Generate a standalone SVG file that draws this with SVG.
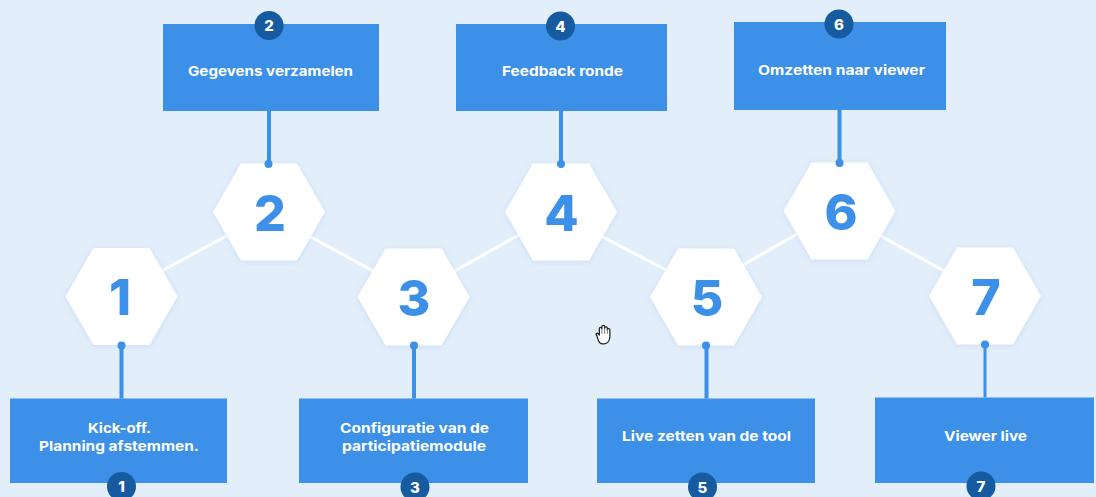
<svg xmlns="http://www.w3.org/2000/svg" width="1096" height="497" viewBox="0 0 1096 497">
<style>
.hex{fill:#fff;filter:url(#sh)}
.box{fill:#3d90e8}
.num{font:800 50px Inter,"Liberation Sans",sans-serif;fill:#3d90e8;text-anchor:middle}
.lab{font:700 13.500px Inter,"Liberation Sans",sans-serif;fill:#fff;text-anchor:middle}
.bad{fill:#165a9f}
.bt{font:800 15px Inter,"Liberation Sans",sans-serif;fill:#fff;text-anchor:middle}
.w{stroke:#fff;stroke-width:3;fill:none}
.b{stroke:#3d90e8;stroke-width:4;fill:none}
.d{fill:#3d90e8}
</style>
<defs>
<filter id="sh" x="-20%" y="-20%" width="140%" height="140%"><feDropShadow dx="0" dy="1" stdDeviation="3" flood-color="#9dbfe6" flood-opacity=".35"/></filter>
<polygon id="hx" points="-56,0 -28,-48.500 28,-48.500 56,0 28,48.500 -28,48.500"/>
</defs>
<rect width="1096" height="497" fill="#e2eefa"/>
<g id="connectors">
<path class="w" d="M160 272L230 234M309 236L375 272M453 272L522 233M601 236L668 271M741 266L799 233M879 235L946 272"/>
</g>
<g id="node1"><use href="#hx" x="121.500" y="296.500" class="hex"/><text class="num" x="120" y="315">1</text><rect class="box" x="10" y="398.500" width="217" height="84.500"/><path class="b" d="M121.500 346V398.500"/><circle class="d" cx="121.500" cy="345.500" r="4"/><text class="lab" x="119.500" y="432.500" textLength="63" lengthAdjust="spacingAndGlyphs">Kick-off.</text><text class="lab" x="119" y="450.500" textLength="160" lengthAdjust="spacingAndGlyphs">Planning afstemmen.</text><circle class="bad" cx="121.500" cy="486.500" r="14.500"/><text class="bt" x="121.500" y="492">1</text></g>
<g id="node2"><use href="#hx" x="269" y="212" class="hex"/><text class="num" x="270" y="231">2</text><rect class="box" x="163" y="24" width="216" height="87"/><path class="b" d="M269 111V164"/><circle class="d" cx="268.500" cy="164" r="4"/><text class="lab" x="270.500" y="76" textLength="165" lengthAdjust="spacingAndGlyphs">Gegevens verzamelen</text><circle class="bad" cx="269" cy="25.500" r="14.500"/><text class="bt" x="269" y="31">2</text></g>
<g id="node3"><use href="#hx" x="413.500" y="297" class="hex"/><text class="num" x="414" y="315.500">3</text><rect class="box" x="299" y="398.500" width="229" height="84.500"/><path class="b" d="M414 346V398.500"/><circle class="d" cx="414" cy="345.500" r="4"/><text class="lab" x="414.500" y="432.500" textLength="149" lengthAdjust="spacingAndGlyphs">Configuratie van de</text><text class="lab" x="414" y="450.500" textLength="144" lengthAdjust="spacingAndGlyphs">participatiemodule</text><circle class="bad" cx="415" cy="487" r="14.500"/><text class="bt" x="415" y="492.500">3</text></g>
<g id="node4"><use href="#hx" x="561" y="212" class="hex"/><text class="num" x="561.500" y="231">4</text><rect class="box" x="456" y="24" width="211" height="87"/><path class="b" d="M561 111V164"/><circle class="d" cx="561" cy="164" r="4"/><text class="lab" x="562.500" y="76" textLength="121" lengthAdjust="spacingAndGlyphs">Feedback ronde</text><circle class="bad" cx="560.500" cy="26" r="14.500"/><text class="bt" x="560.500" y="31.500">4</text></g>
<g id="node5"><use href="#hx" x="706" y="297" class="hex"/><text class="num" x="707" y="315.500">5</text><rect class="box" x="597" y="398.500" width="218" height="84.500"/><path class="b" d="M706.500 346V398.500"/><circle class="d" cx="706" cy="345.500" r="4"/><text class="lab" x="706.500" y="441" textLength="169" lengthAdjust="spacingAndGlyphs">Live zetten van de tool</text><circle class="bad" cx="702.500" cy="487" r="14.500"/><text class="bt" x="702.500" y="492.500">5</text></g>
<g id="node6"><use href="#hx" x="839.500" y="211" class="hex"/><text class="num" x="841" y="229.500">6</text><rect class="box" x="734" y="22" width="212" height="88"/><path class="b" d="M839.500 110V163"/><circle class="d" cx="839.500" cy="163" r="4"/><text class="lab" x="841.500" y="75" textLength="167" lengthAdjust="spacingAndGlyphs">Omzetten naar viewer</text><circle class="bad" cx="839" cy="24" r="14.500"/><text class="bt" x="839" y="29.500">6</text></g>
<g id="node7"><use href="#hx" x="985" y="296" class="hex"/><text class="num" x="986" y="314.500">7</text><rect class="box" x="875" y="397.500" width="219" height="85.500"/><path class="b" style="stroke-width:3" d="M985 345V397.500"/><circle class="d" cx="985" cy="344.500" r="4"/><text class="lab" x="985.500" y="441" textLength="83" lengthAdjust="spacingAndGlyphs">Viewer live</text><circle class="bad" cx="981" cy="486" r="14.500"/><text class="bt" x="981" y="491.500">7</text></g>
<g transform="translate(604 335) scale(1.25) translate(-604.500 -335)">
<path fill="#fff" stroke="#222" stroke-width="1" stroke-linejoin="round" d="M598.500 335.500c-1-1.500 .5-2.500 1.500-1.500l.8 1v-5c0-1.500 2-1.500 2 0v-1.500c0-1.500 2.200-1.500 2.200 0v1c0-1.300 2.200-1.300 2.200 .2v1c0-1.200 2-1.200 2 .3v5c0 3.500-1.800 6-4.700 6h-1.500c-2 0-3-1.500-4.500-7.500z"/>
<path fill="none" stroke="#555" stroke-width=".6" d="M602.800 330v4M605 329.500v4.500M607.200 330v4"/>
</g>
</svg>
